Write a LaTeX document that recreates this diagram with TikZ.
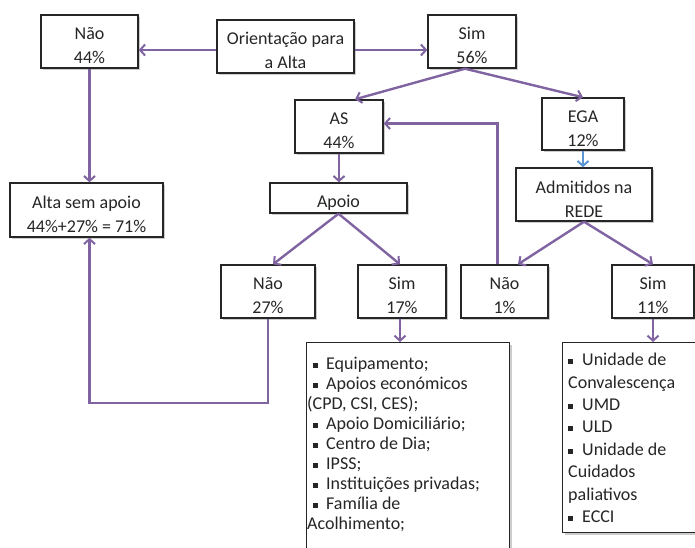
\documentclass[tikz,border=0pt]{standalone}
\usepackage{fontspec}
\setmainfont{Carlito}
\usetikzlibrary{arrows.meta,shadows}
\definecolor{linkpurple}{HTML}{8064A2}
\definecolor{linkblue}{HTML}{5B95D2}
\definecolor{frame}{HTML}{262626}
% square list bullet: optional indent, bullet, gap before the item text
\newcommand{\sqbullet}[2][0pt]{\hspace*{#1}\rule[1.5pt]{5pt}{5pt}\hspace{#2}}
% tall invisible strut that lowers the text inside a box
\newcommand{\boxlift}{\rule{0pt}{21pt}}

\begin{document}
\begin{tikzpicture}[x=1pt,y=-1pt,
  box/.style={draw=frame, line width=1.4pt, fill=white, align=center,
    inner sep=0pt, font=\fontsize{18}{24}\selectfont, text=black!85,
    drop shadow={shadow xshift=2pt, shadow yshift=-2pt, opacity=0.2, fill=black}},
  frameonly/.style={draw=frame, line width=1.4pt, fill=white, inner sep=0pt,
    drop shadow={shadow xshift=2pt, shadow yshift=-2pt, opacity=0.2, fill=black}},
  listtext/.style={align=left, inner sep=0pt, text=black!85},
  link/.style={draw=linkpurple, line width=2.4pt,
    -{Straight Barb[length=5pt,width=11pt,line width=2pt]}},
  bluelink/.style={link, draw=linkblue}]
\useasboundingbox (0,0) rectangle (695,547);

% decision boxes
\node[box, minimum width=97pt, minimum height=53pt] (nao1) at (89.5,41.5) {\boxlift Não\\44\%};
\node[box, minimum width=137pt, minimum height=53pt] (orient) at (285.5,46.5) {\boxlift Orientação para\\a Alta};
\node[box, minimum width=88pt, minimum height=53pt] (sim1) at (472,41.5) {\boxlift Sim\\56\%};
\node[box, minimum width=88pt, minimum height=53pt] (as) at (339,126.5) {\boxlift AS\\44\%};
\node[box, minimum width=82pt, minimum height=52pt] (ega) at (583,124) {\boxlift EGA\\12\%};
\node[box, minimum width=136pt, minimum height=53pt] (adm) at (584,194.5) {\boxlift Admitidos na\\REDE};
\node[box, minimum width=153pt, minimum height=54pt] (alta) at (86.5,210) {\boxlift Alta sem apoio\\44\%+27\% = 71\%};
\node[box, minimum width=137pt, minimum height=30pt] (apoio) at (338.5,198) {\boxlift Apoio};
\node[box, minimum width=94pt, minimum height=53pt] (nao2) at (268,291.5) {\boxlift Não\\27\%};
\node[box, minimum width=88pt, minimum height=53pt] (sim2) at (402,291.5) {\boxlift Sim\\17\%};
\node[box, minimum width=87pt, minimum height=53pt] (nao3) at (504.5,291.5) {\boxlift Não\\1\%};
\node[box, minimum width=82pt, minimum height=53pt] (sim3) at (653,291.5) {\boxlift Sim\\11\%};

% list boxes
\node[frameonly, anchor=north west, minimum width=203pt, minimum height=230pt] (list1) at (306,342) {};
\node[frameonly, anchor=north west, minimum width=150pt, minimum height=190pt] (list2) at (562,342) {};
\node[listtext, font=\fontsize{18}{20}\selectfont, anchor=north west] (list1text) at (307,356.5)
  {\sqbullet[6pt]{8pt}Equipamento;\\
   \sqbullet[6pt]{8pt}Apoios económicos\\
   (CPD, CSI, CES);\\
   \sqbullet[6pt]{8pt}Apoio Domiciliário;\\
   \sqbullet[6pt]{8pt}Centro de Dia;\\
   \sqbullet[6pt]{8pt}IPSS;\\
   \sqbullet[6pt]{8pt}Instituições privadas;\\
   \sqbullet[6pt]{8pt}Família de\\
   Acolhimento;};
\node[listtext, font=\fontsize{18}{22.4}\selectfont, anchor=north west] (list2text) at (568,353)
  {\sqbullet{9pt}Unidade de\\
   Convalescença\\
   \sqbullet{9pt}UMD\\
   \sqbullet{9pt}ULD\\
   \sqbullet{9pt}Unidade de\\
   Cuidados\\
   paliativos\\
   \sqbullet{9pt}ECCI};

% connectors
\coordinate (hline) at (0,50);
\coordinate (bend) at (0,403);
\draw[link] (orient.west |- hline) -- (nao1.east |- hline);
\draw[link] (orient.east |- hline) -- (sim1.west |- hline);
\draw[link] ([xshift=-7pt]sim1.south) -- ([xshift=16pt]as.north);
\draw[link] ([xshift=-7pt]sim1.south) -- (ega.north);
\draw[link] (nao1.south) -- (nao1.south |- alta.north);
\draw[link] (as.south) -- (as.south |- apoio.north);
\draw[link] (apoio.south) -- ([xshift=5pt]nao2.north);
\draw[link] (apoio.south) -- ([xshift=-2pt]sim2.north);
\draw[link] (nao2.south) -- (nao2.south |- bend) -| (nao1.south |- alta.south);
\draw[link] ([xshift=-7pt]nao3.north) |- ([yshift=3pt]as.east);
\draw[bluelink] (ega.south) -- (ega.south |- adm.north);
\draw[link] (adm.south) -- ([xshift=13.5pt]nao3.north);
\draw[link] (adm.south) -- (sim3.north);
\draw[link] ([xshift=-2pt]sim2.south) -- ([xshift=-2pt]sim2.south |- list1.north);
\draw[link] (sim3.south) -- (sim3.south |- list2.north);
\end{tikzpicture}
\end{document}
